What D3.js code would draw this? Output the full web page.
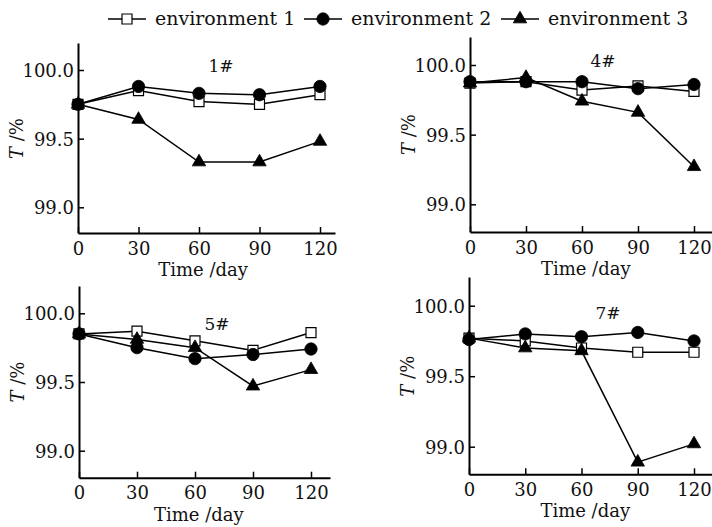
<!DOCTYPE html>
<html>
<head>
<meta charset="utf-8">
<script src="https://cdn.jsdelivr.net/npm/d3@7"></script>
<style>
  body { margin: 0; background: #fff; }
  svg text { font-family: "DejaVu Serif", serif; fill: #111; }
</style>
</head>
<body>
<div id="chart"></div>
<script>
var days = [0, 30, 60, 90, 120];
var seriesNames = ["environment 1", "environment 2", "environment 3"];
var yTicks = [99.0, 99.5, 100.0];
var panelNames = ["1#", "4#", "5#", "7#"];

// sample 1#
var env1_1 = [99.75, 99.85, 99.77, 99.75, 99.82];
var env2_1 = [99.75, 99.88, 99.83, 99.82, 99.88];
var env3_1 = [99.75, 99.64, 99.33, 99.33, 99.48];
// sample 4#
var env1_4 = [99.87, 99.88, 99.82, 99.85, 99.81];
var env2_4 = [99.88, 99.88, 99.88, 99.83, 99.86];
var env3_4 = [99.87, 99.91, 99.74, 99.66, 99.27];
// sample 5#
var env1_5 = [99.85, 99.87, 99.80, 99.73, 99.86];
var env2_5 = [99.85, 99.75, 99.67, 99.70, 99.74];
var env3_5 = [99.85, 99.81, 99.75, 99.47, 99.59];
// sample 7#
var env1_7 = [99.77, 99.75, 99.70, 99.67, 99.67];
var env2_7 = [99.76, 99.80, 99.78, 99.81, 99.75];
var env3_7 = [99.77, 99.70, 99.68, 98.89, 99.02];

var panelData = [
  [env1_1, env2_1, env3_1],
  [env1_4, env2_4, env3_4],
  [env1_5, env2_5, env3_5],
  [env1_7, env2_7, env3_7]
];

// pixel layout of each panel (axis corners, label spot)
var layout = [
  {x0: 78,  x120: 320, xEnd: 335, y100: 70,    y99: 207.3, yTop: 43,  yBot: 233,   lx: 221, ly: 72},
  {x0: 470, x120: 694, xEnd: 716, y100: 65,    y99: 204.3, yTop: 37,  yBot: 232,   lx: 603, ly: 67},
  {x0: 79,  x120: 311, xEnd: 330, y100: 313.3, y99: 450.7, yTop: 286, yBot: 477.7, lx: 217, ly: 330},
  {x0: 469, x120: 694, xEnd: 716, y100: 305.7, y99: 446.7, yTop: 277, yBot: 474.3, lx: 608, ly: 319}
];

var W = 712, H = 527;
var svg = d3.select("#chart").append("svg").attr("width", W).attr("height", H);

var symbols = [
  d3.symbol().type(d3.symbolSquare).size(100),
  d3.symbol().type(d3.symbolCircle).size(120),
  d3.symbol().type(d3.symbolTriangle).size(78)
];
var fills = ["#fff", "#000", "#000"];

function drawMarker(g, i, x, y) {
  g.append("path")
    .attr("d", symbols[i]())
    .attr("transform", "translate(" + x + "," + y + ")")
    .attr("fill", fills[i])
    .attr("stroke", "#000")
    .attr("stroke-width", i == 0 ? 1.2 : 0.8);
}

layout.forEach(function(L, p) {
  var x = d3.scaleLinear().domain([0, 120]).range([L.x0, L.x120]);
  x.domain([0, x.invert(L.xEnd)]).range([L.x0, L.xEnd]);
  var y = d3.scaleLinear().domain([99, 100]).range([L.y99, L.y100]);
  y.domain([y.invert(L.yBot), y.invert(L.yTop)]).range([L.yBot, L.yTop]);

  var g = svg.append("g");

  var xAxis = d3.axisBottom(x).tickValues(days).tickSizeInner(-6).tickSizeOuter(0).tickPadding(9);
  var yAxis = d3.axisLeft(y).tickValues(yTicks).tickFormat(d3.format(".1f")).tickSizeInner(-6).tickSizeOuter(0).tickPadding(4);

  var gx = g.append("g").attr("transform", "translate(0," + L.yBot + ")").call(xAxis);
  var gy = g.append("g").attr("transform", "translate(" + L.x0 + ",0)").call(yAxis);
  [gx, gy].forEach(function(a) {
    a.select(".domain").attr("stroke", "#000").attr("stroke-width", 2);
    a.selectAll(".tick line").attr("stroke", "#000").attr("stroke-width", 1.5);
    a.selectAll("text").attr("font-size", 18).attr("font-family", "DejaVu Serif").attr("fill", "#111");
  });
  gy.selectAll("text").attr("dy", "0.36em");

  g.append("text")
    .attr("x", x(62)).attr("y", L.yBot + 43)
    .attr("text-anchor", "middle").attr("font-size", 18)
    .text("Time /day");

  var yl = g.append("text")
    .attr("transform", "translate(" + (L.x0 - 55) + "," + y(99.5) + ") rotate(-90)")
    .attr("text-anchor", "middle").attr("font-size", 18);
  yl.append("tspan").attr("font-style", "italic").text("T");
  yl.append("tspan").text(" /%");

  g.append("text")
    .attr("x", L.lx).attr("y", L.ly)
    .attr("text-anchor", "middle").attr("font-size", 17)
    .text(panelNames[p]);

  var line = d3.line().x(function(d, i) { return x(days[i]); }).y(function(d) { return y(d); });

  panelData[p].forEach(function(vals, s) {
    g.append("path").datum(vals)
      .attr("d", line)
      .attr("fill", "none").attr("stroke", "#000").attr("stroke-width", 1.5);
    vals.forEach(function(v, i) { drawMarker(g, s, x(days[i]), y(v)); });
  });
});

// legend
var legX = [127, 323, 520];
var leg = svg.append("g");
seriesNames.forEach(function(name, i) {
  leg.append("line")
    .attr("x1", legX[i] - 19).attr("x2", legX[i] + 19)
    .attr("y1", 19).attr("y2", 19)
    .attr("stroke", "#000").attr("stroke-width", 1.5);
  drawMarker(leg, i, legX[i], 19);
  leg.append("text")
    .attr("x", legX[i] + 28).attr("y", 25)
    .attr("font-size", 19)
    .text(name);
});
</script>
</body>
</html>
